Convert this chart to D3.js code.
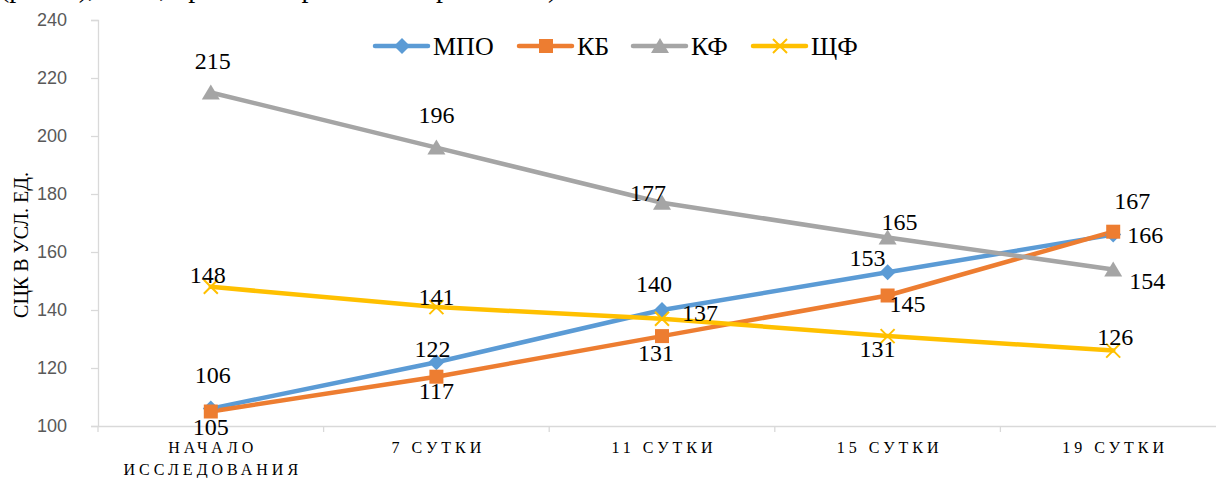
<!DOCTYPE html>
<html>
<head>
<meta charset="utf-8">
<script src="https://cdn.jsdelivr.net/npm/d3@7/dist/d3.min.js"></script>
<style>
  html, body { margin: 0; padding: 0; background: #fff; }
  svg { display: block; }
</style>
</head>
<body>
<svg id="chart" width="1216" height="478"></svg>
<script>
// Categories (observation days)
const categories = ["НАЧАЛО ИССЛЕДОВАНИЯ", "7 СУТКИ", "11 СУТКИ", "15 СУТКИ", "19 СУТКИ"];
const categoryLines = [["НАЧАЛО", "ИССЛЕДОВАНИЯ"], ["7 СУТКИ"], ["11 СУТКИ"], ["15 СУТКИ"], ["19 СУТКИ"]];

// Series values
const seriesNames = ["МПО", "КБ", "КФ", "ЩФ"];
const mpoValues = [106, 122, 140, 153, 166];
const kbValues  = [105, 117, 131, 145, 167];
const kfValues  = [215, 196, 177, 165, 154];
const shfValues = [148, 141, 137, 131, 126];

// Y axis ticks
const yTicks = [100, 120, 140, 160, 180, 200, 220, 240];
const yTitle = "СЦК В УСЛ. ЕД.";

// Styling per series
const colors = { "МПО": "#5B9BD5", "КБ": "#ED7D31", "КФ": "#A5A5A5", "ЩФ": "#FFC000" };
const markers = { "МПО": "diamond", "КБ": "square", "КФ": "triangle", "ЩФ": "cross" };

// Data-label offsets (px) relative to each point
const labelOffsets = {
  "МПО": [[2, -34], [-4, -14], [-8, -26], [-20, -15], [32, 0]],
  "КБ":  [[0, 15], [0, 14], [-6, 16], [20, 8], [19, -31]],
  "КФ":  [[2, -32], [0, -33], [-14, -10], [12, -16], [34, 11]],
  "ЩФ":  [[-3, -12], [0, -11], [38, -6], [-10, 12], [2, -14]]
};

const seriesValues = [mpoValues, kbValues, kfValues, shfValues];
const series = seriesNames.map((name, i) => ({ name, values: seriesValues[i] }));

const svg = d3.select("#chart");
const serif = "'Liberation Serif', 'Times New Roman', serif";

// Last line of the preceding paragraph, running off the top edge
svg.append("text")
  .attr("x", 0).attr("y", -3)
  .attr("font-family", serif).attr("font-size", 28).attr("fill", "#000")
  .text("(рис. 3), а это, при этом при нашем сравнении)");

const plot = { left: 98, right: 1226, top: 20, bottom: 426 };

const x = d3.scaleBand().domain(categories).range([plot.left, plot.right]).padding(0);
const y = d3.scaleLinear().domain([100, 240]).range([plot.bottom, plot.top]);
const cx = c => x(c) + x.bandwidth() / 2;

// Y axis
const yAxis = svg.append("g")
  .attr("transform", `translate(${plot.left},0)`)
  .call(d3.axisLeft(y).tickValues(yTicks).tickSize(7).tickPadding(24).tickFormat(d3.format("d")));
yAxis.select(".domain").attr("stroke", "#d9d9d9").attr("stroke-width", 1.3);
yAxis.selectAll(".tick line").attr("stroke", "#d9d9d9").attr("stroke-width", 1.3);
yAxis.selectAll(".tick text")
  .attr("font-family", "'Liberation Sans', Arial, sans-serif")
  .attr("font-size", 18).attr("fill", "#595959");

// X axis
const xAxis = svg.append("g")
  .attr("transform", `translate(0,${plot.bottom})`)
  .call(d3.axisBottom(x).tickSize(0).tickFormat(""));
xAxis.select(".domain").attr("stroke", "#d9d9d9").attr("stroke-width", 1.3);
xAxis.selectAll(".tick").remove();
// Category boundary ticks
const bounds = categories.map(c => x(c)).concat([plot.right]);
xAxis.selectAll("line.bound").data(bounds).join("line")
  .attr("class", "bound")
  .attr("x1", d => d).attr("x2", d => d)
  .attr("y1", 0).attr("y2", 6)
  .attr("stroke", "#d9d9d9").attr("stroke-width", 1.3);

// Category labels
categories.forEach((c, i) => {
  const t = svg.append("text")
    .attr("x", cx(c)).attr("y", 453)
    .attr("text-anchor", "middle")
    .attr("font-family", serif).attr("font-size", 16)
    .attr("letter-spacing", "4px").attr("fill", "#000");
  categoryLines[i].forEach((line, j) => {
    t.append("tspan").attr("x", cx(c) + 2).attr("dy", j === 0 ? 0 : 22).text(line);
  });
});

// Y axis title
svg.append("text")
  .attr("transform", `translate(28,245) rotate(-90)`)
  .attr("text-anchor", "middle")
  .attr("font-family", serif).attr("font-size", 20).attr("fill", "#000")
  .text(yTitle);

// Marker drawing
function drawMarker(g, type, color, px, py) {
  if (type === "diamond") {
    const s = 8;
    g.append("path").attr("d", `M${px},${py - s}L${px + s},${py}L${px},${py + s}L${px - s},${py}Z`).attr("fill", color);
  } else if (type === "square") {
    const s = 7;
    g.append("rect").attr("x", px - s).attr("y", py - s).attr("width", 2 * s).attr("height", 2 * s).attr("fill", color);
  } else if (type === "triangle") {
    const s = 8;
    g.append("path").attr("d", `M${px},${py - s}L${px + s + 1},${py + s - 1}L${px - s - 1},${py + s - 1}Z`).attr("fill", color);
  } else if (type === "cross") {
    const s = 7;
    g.append("path").attr("d", `M${px - s},${py - s}L${px + s},${py + s}M${px + s},${py - s}L${px - s},${py + s}`)
      .attr("stroke", color).attr("stroke-width", 2).attr("fill", "none");
  }
}

const line = d3.line().x((d, i) => cx(categories[i])).y(d => y(d));

// Series lines and markers
const layer = svg.append("g");
series.forEach(s => {
  layer.append("path")
    .attr("d", line(s.values))
    .attr("fill", "none")
    .attr("stroke", colors[s.name])
    .attr("stroke-width", 4.5)
    .attr("stroke-linejoin", "round")
    .attr("stroke-linecap", "round");
});
series.forEach(s => {
  s.values.forEach((v, i) => drawMarker(layer, markers[s.name], colors[s.name], cx(categories[i]), y(v)));
});

// Data labels
const labels = svg.append("g");
series.forEach(s => {
  s.values.forEach((v, i) => {
    const [dx, dy] = labelOffsets[s.name][i];
    labels.append("text")
      .attr("x", cx(categories[i]) + dx)
      .attr("y", y(v) + dy)
      .attr("dy", "0.35em")
      .attr("text-anchor", "middle")
      .attr("font-family", serif).attr("font-size", 24).attr("fill", "#000")
      .text(v);
  });
});

// Legend
const legendItems = [
  { name: "МПО", x0: 375 },
  { name: "КБ", x0: 519 },
  { name: "КФ", x0: 633 },
  { name: "ЩФ", x0: 753 }
];
const legend = svg.append("g");
const ly = 46;
legendItems.forEach(it => {
  legend.append("line")
    .attr("x1", it.x0).attr("x2", it.x0 + 53)
    .attr("y1", ly).attr("y2", ly)
    .attr("stroke", colors[it.name]).attr("stroke-width", 4.5).attr("stroke-linecap", "round");
  drawMarker(legend, markers[it.name], colors[it.name], it.x0 + 27, ly);
  legend.append("text")
    .attr("x", it.x0 + 58).attr("y", ly).attr("dy", "0.35em")
    .attr("font-family", serif).attr("font-size", 26).attr("fill", "#000")
    .text(it.name);
});
</script>
</body>
</html>
